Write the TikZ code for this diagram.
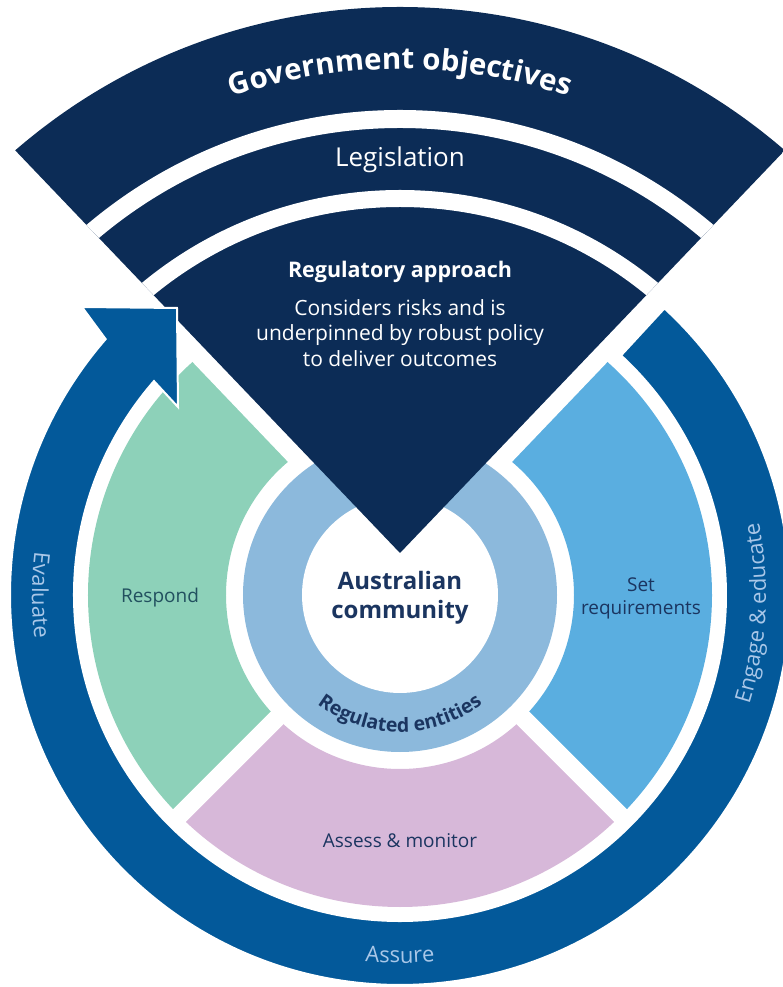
\documentclass[tikz,border=0pt]{standalone}
\usepackage{fontspec}
\setmainfont{Open Sans}
\usetikzlibrary{decorations.text}

\definecolor{navy}{HTML}{0C2C56}
\definecolor{cycleblue}{HTML}{03599A}
\definecolor{respondgreen}{HTML}{8DD1B9}
\definecolor{setblue}{HTML}{5AAEE0}
\definecolor{assesslilac}{HTML}{D7B8D9}
\definecolor{entityblue}{HTML}{8CB9DC}
\definecolor{labelnavy}{HTML}{1B3560}
\definecolor{respondtext}{HTML}{22505F}
\definecolor{ringtext}{HTML}{A9C7E8}

\tikzset{
  gap/.style={white, line width=#1},
  seglabel/.style={font=\fontsize{19}{23}\selectfont, text=labelnavy, align=center},
  curved/.style={decorate, decoration={text along path, text align=center, text={#1}}}
}

\begin{document}
\begin{tikzpicture}[x=1pt,y=1pt]
  \useasboundingbox (-400,-392) rectangle (382,595);
  \coordinate (centre) at (0,0);
  \coordinate (apex) at (0,42);

  % activity ring
  \fill[respondgreen] (120:312) arc[start angle=120,end angle=225,radius=312]
    -- (225:174) arc[start angle=225,end angle=120,radius=174] -- cycle;
  \fill[assesslilac] (225:312) arc[start angle=225,end angle=315,radius=312]
    -- (315:174) arc[start angle=315,end angle=225,radius=174] -- cycle;
  \fill[setblue] (315:312) arc[start angle=315,end angle=420,radius=312]
    -- (420:174) arc[start angle=420,end angle=315,radius=174] -- cycle;
  \draw[gap=18] (centre) -- (225:330) (centre) -- (315:330);

  % white margin round the fan
  \draw[gap=36] (apex) +(133.7:900) -- (apex) -- +(46.3:900);

  % regulated entities
  \fill[entityblue] (centre) circle (157);
  \fill[white] (centre) circle (98);

  % fan: objectives, legislation, approach
  \begin{scope}
    \clip (apex) -- +(46.3:900) -- +(133.7:900) -- cycle;
    \fill[navy] (centre) circle (588);
    \draw[gap=18] (centre) circle (476);
    \draw[gap=17] (centre) circle (396.5);
  \end{scope}

  % cycle arrow
  \fill[cycleblue, draw=white, line width=2]
    (47.3:390) arc[start angle=47.3,end angle=-221,radius=390]
    -- (-318,288) -- (-223,287) -- (-222,188)
    -- (-221:326) arc[start angle=-221,end angle=47.3,radius=326] -- cycle;

  % labels
  \path[curved={|\fontsize{29.5}{31}\selectfont\bfseries\color{white}|Government objectives}]
    (150:526) arc[start angle=150,end angle=30,radius=526];
  \node[font=\fontsize{26}{28}\selectfont, text=white] (legislation) at (0,435) {Legislation};
  \node[font=\fontsize{21.5}{24}\selectfont\bfseries, text=white] (approach) at (0,323) {Regulatory approach};
  \node[font=\fontsize{21}{25.5}\selectfont, text=white, align=center] (approachtext) at (0,262)
    {Considers risks and is\\underpinned by robust policy\\to deliver outcomes};

  \node[seglabel, text=respondtext] (respond) at (-240,-3) {Respond};
  \node[seglabel] (setreq) at (241,-3) {Set\\requirements};
  \node[seglabel] (assess) at (0,-246) {Assess \& monitor};

  \node[font=\fontsize{24}{29}\selectfont\bfseries, text=labelnavy, align=center] (community) at (0,-3)
    {Australian\\community};
  \path[curved={|\fontsize{19.5}{21}\selectfont\bfseries\color{labelnavy}|Regulated entities}]
    (205:137) arc[start angle=205,end angle=335,radius=137];

  \path[curved={|\fontsize{22}{24}\selectfont\color{ringtext}|Evaluate}]
    (150:368) arc[start angle=150,end angle=210,radius=368];
  \path[curved={|\fontsize{22}{24}\selectfont\color{ringtext}|Assure}]
    (240:368) arc[start angle=240,end angle=300,radius=368];
  \path[curved={|\fontsize{22}{24}\selectfont\color{ringtext}|Engage {\&} educate}]
    (-45:366) arc[start angle=-45,end angle=39,radius=366];
\end{tikzpicture}
\end{document}
